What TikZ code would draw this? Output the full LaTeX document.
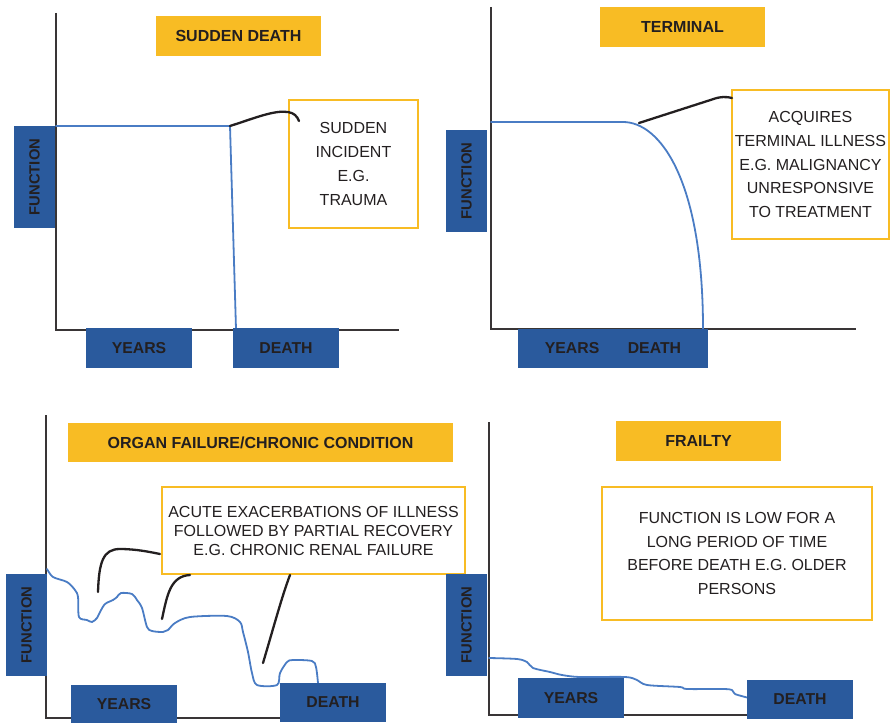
\documentclass[tikz,border=0pt]{standalone}
\usepackage{fontspec}
\setmainfont{Liberation Sans}
\definecolor{amber}{HTML}{F8BC24}
\definecolor{navy}{HTML}{2A5A9D}
\definecolor{curveblue}{HTML}{4A7CC4}
\definecolor{ink}{HTML}{231F20}
\tikzset{
  axisline/.style={draw=ink!90, line width=1.8pt},
  titlebox/.style={fill=amber, text=ink, font=\bfseries\fontsize{16}{18}\selectfont, inner sep=0pt, minimum height=40pt},
  tagbox/.style={fill=navy, text=ink, font=\bfseries\fontsize{15.8}{18}\selectfont, inner sep=0pt, minimum width=106pt, minimum height=40pt},
  funcbox/.style={tagbox, rotate=90, minimum width=102pt, minimum height=41pt, font=\bfseries\fontsize{14.8}{17}\selectfont},
  notebox/.style={draw=amber, fill=white, line width=1.6pt, text=ink, align=center, inner sep=0pt, font=\fontsize{16}{23.8}\selectfont},
  trend/.style={draw=curveblue, line width=1.8pt, line join=round, line cap=round},
  pointer/.style={draw=ink, line width=2.3pt, line cap=round},
}
\begin{document}
\begin{tikzpicture}[x=1pt, y=-1pt]
\useasboundingbox (0,0) rectangle (890,722);

% ---------- Sudden death ----------
\coordinate (o1) at (56,330);
\coordinate (top1) at (56,13);
\coordinate (end1) at (399,330);
\draw[axisline] (top1) -- (o1) -- (end1);
\coordinate (s1) at (56,126);
\coordinate (k1) at (230,126);
\coordinate (z1) at (236,329);
\draw[trend] (s1) -- (k1) -- (z1);
\node[titlebox, minimum width=165pt] (t1) at (238.5,36) {SUDDEN DEATH};
\node[funcbox] (f1) at (34.5,177) {FUNCTION};
\node[tagbox] (y1) at (139,348) {YEARS};
\node[tagbox] (d1) at (286,348) {DEATH};
\node[notebox, minimum width=129pt, minimum height=128pt] (c1) at (353.5,164)
  {SUDDEN\\INCIDENT\\E.G.\\TRAUMA};
\coordinate (h1) at (299,121);
\draw[pointer] (k1) .. controls (255,118) and (274,110) .. (288,112)
  .. controls (294,113) and (297,116) .. (h1);

% ---------- Terminal ----------
\coordinate (o2) at (491,329);
\coordinate (top2) at (491,7);
\coordinate (end2) at (856,329);
\draw[axisline] (top2) -- (o2) -- (end2);
\coordinate (s2) at (491,122);
\coordinate (k2) at (623,122);
\coordinate (z2) at (703,329);
\draw[trend] (s2) -- (k2) .. controls (660,122) and (703,180) .. (z2);
\node[titlebox, minimum width=165pt] (t2) at (682.5,27) {TERMINAL};
\node[funcbox] (f2) at (466.5,181) {FUNCTION};
\node[tagbox, minimum width=190pt, minimum height=39pt] (yd2) at (613,348.5)
  {YEARS\hspace{28.5pt}DEATH};
\node[notebox, minimum width=157pt, minimum height=149pt] (c2) at (810.5,164.5)
  {ACQUIRES\\TERMINAL ILLNESS\\E.G. MALIGNANCY\\UNRESPONSIVE\\TO TREATMENT};
\coordinate (p2) at (639,123);
\coordinate (h2) at (732,98);
\draw[pointer] (p2) -- (712,99.5) .. controls (720,96.5) and (727,96.5) .. (h2);

% ---------- Organ failure ----------
\coordinate (o3) at (46,718);
\coordinate (top3) at (46,415);
\coordinate (end3) at (380,718);
\draw[axisline] (top3) -- (o3) -- (end3);
\draw[trend] plot[smooth, tension=0.5] coordinates {
  (47,569) (53,577) (67,582) (75,590) (78,597) (79,617) (87,620) (92,622)
  (97,618) (100,612) (105,604) (113,600) (117,597) (121,593) (132,594)
  (137,600) (142,608) (147,627) (152,631) (163,632) (168,630) (175,623)
  (190,617) (227,616) (240,622) (243,632) (248,652) (252,673) (257,685)
  (277,685) (280,673) (287,662) (293,660) (312,661) (316,667) (318,683)};
\node[titlebox, minimum width=385pt, minimum height=39pt] (t3) at (260.5,442.5)
  {ORGAN FAILURE/CHRONIC CONDITION};
\node[funcbox] (f3) at (26.5,625) {FUNCTION};
\node[tagbox, minimum height=38pt] (y3) at (124,704) {YEARS};
\node[tagbox, minimum height=39pt] (d3) at (333,702.5) {DEATH};
\node[notebox, minimum width=303pt, minimum height=87pt,
  font=\fontsize{16}{19}\selectfont] (c3) at (313.5,530.5)
  {ACUTE EXACERBATIONS OF ILLNESS\\FOLLOWED BY PARTIAL RECOVERY\\E.G. CHRONIC RENAL FAILURE};
\coordinate (p3a) at (98,592);
\coordinate (h3a) at (160,554);
\draw[pointer] (p3a) .. controls (99,562) and (103,549) .. (120,549)
  .. controls (136,549) and (150,552) .. (h3a);
\coordinate (p3b) at (162,619);
\coordinate (h3b) at (190,575);
\draw[pointer] (p3b) .. controls (167,596) and (170,576) .. (h3b);
\coordinate (p3c) at (263,663);
\coordinate (h3c) at (290,575);
\draw[pointer] (p3c) .. controls (274,626) and (282,596) .. (h3c);

% ---------- Frailty ----------
\coordinate (o4) at (489,715);
\coordinate (top4) at (489,422);
\coordinate (end4) at (800,715);
\draw[axisline] (top4) -- (o4) -- (end4);
\draw[trend] plot[smooth, tension=0.5] coordinates {
  (489,658) (517,659) (527,662) (533,668) (550,672) (562,675) (580,677)
  (625,677) (637,680) (647,685) (680,687) (687,689) (723,689) (732,690)
  (735,694) (749,698)};
\node[titlebox, minimum width=165pt] (t4) at (698.5,441) {FRAILTY};
\node[funcbox] (f4) at (466.5,625) {FUNCTION};
\node[tagbox] (y4) at (571,698) {YEARS};
\node[tagbox, minimum height=39pt] (d4) at (800,699.5) {DEATH};
\node[notebox, minimum width=270pt, minimum height=133pt] (c4) at (737,553.5)
  {FUNCTION IS LOW FOR A\\LONG PERIOD OF TIME\\BEFORE DEATH E.G. OLDER\\PERSONS};
\end{tikzpicture}
\end{document}
